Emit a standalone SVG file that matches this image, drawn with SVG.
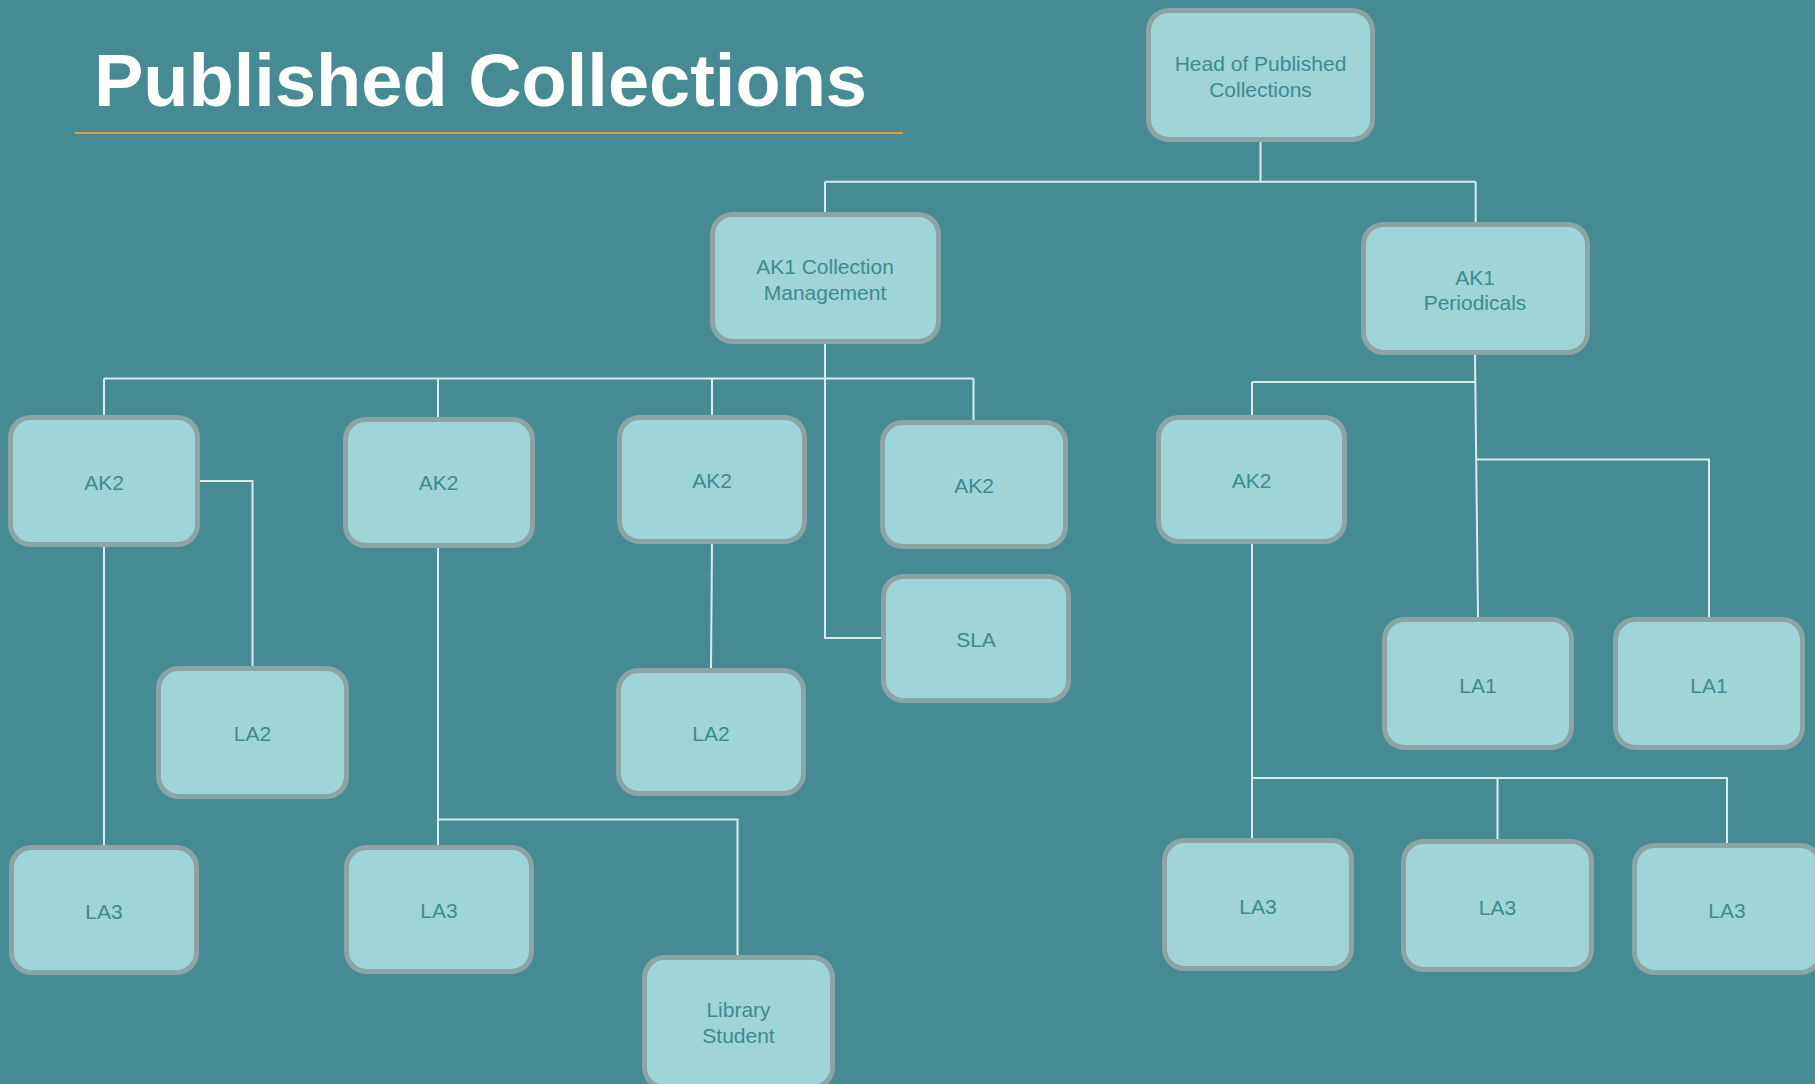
<svg xmlns="http://www.w3.org/2000/svg" width="1815" height="1084" viewBox="0 0 1815 1084">
<style>
.bg{fill:#468A94}
.box{fill:#9FD4D8;stroke:#8BA4A6;stroke-width:5}
.lbl{font-family:"Liberation Sans",Arial,sans-serif;font-size:21px;fill:#3D8B92;text-anchor:middle}
.con{fill:none;stroke:#D6EDEF;stroke-width:2}
.title{font-family:"Liberation Sans",Arial,sans-serif;font-weight:bold;font-size:74px;fill:#FFFFFF}
</style>
<rect class="bg" x="0" y="0" width="1815" height="1084"/>
<text class="title" x="94" y="106">Published Collections</text>
<line x1="75" y1="133" x2="903" y2="133" stroke="#EE9A2E" stroke-width="2"/>
<g id="connectors">
<path class="con" d="M1260.5 142V181.7M825 181.7H1475.7M825 181.7V212M1475.7 181.7V222"/>
<path class="con" d="M825 344V638H881"/>
<path class="con" d="M104 378.5H973.5M104 378.5V415M438 378.5V417M712 378.5V415M973.5 378.5V420"/>
<path class="con" d="M200 481H252.5V666M104 547V845"/>
<path class="con" d="M438 548V845M438 819.5H737.5V955"/>
<path class="con" d="M712 544L711 668"/>
<path class="con" d="M1475 355L1478 617M1252 382H1475M1252 382V415M1477 459.5H1709V617"/>
<path class="con" d="M1252 544V838M1252 778H1727V843M1497.5 778V839"/>
</g>
<g id="head"><rect class="box" x="1148.5" y="10.5" width="224" height="129" rx="20"/><text class="lbl" x="1260.5" y="70.5">Head of Published</text><text class="lbl" x="1260.5" y="96.5">Collections</text></g>
<g id="ak1cm"><rect class="box" x="712.5" y="214.5" width="226" height="127" rx="20"/><text class="lbl" x="825" y="273.5">AK1 Collection</text><text class="lbl" x="825" y="299.5">Management</text></g>
<g id="ak1p"><rect class="box" x="1363.5" y="224.5" width="224" height="128" rx="20"/><text class="lbl" x="1475" y="284.5">AK1</text><text class="lbl" x="1475" y="309.5">Periodicals</text></g>
<g id="ak2a"><rect class="box" x="10.5" y="417.5" width="187" height="127" rx="20"/><text class="lbl" x="104" y="489.5">AK2</text></g>
<g id="ak2b"><rect class="box" x="345.5" y="419.5" width="187" height="126" rx="20"/><text class="lbl" x="438.5" y="490">AK2</text></g>
<g id="ak2c"><rect class="box" x="619.5" y="417.5" width="185" height="124" rx="20"/><text class="lbl" x="712" y="487.5">AK2</text></g>
<g id="ak2d"><rect class="box" x="882.5" y="422.5" width="183" height="124" rx="20"/><text class="lbl" x="974" y="492.5">AK2</text></g>
<g id="sla"><rect class="box" x="883.5" y="576.5" width="185" height="124" rx="20"/><text class="lbl" x="976" y="646.5">SLA</text></g>
<g id="ak2e"><rect class="box" x="1158.5" y="417.5" width="186" height="124" rx="20"/><text class="lbl" x="1251.5" y="487.5">AK2</text></g>
<g id="la2a"><rect class="box" x="158.5" y="668.5" width="188" height="128" rx="20"/><text class="lbl" x="252.5" y="740.5">LA2</text></g>
<g id="la2b"><rect class="box" x="618.5" y="670.5" width="185" height="123" rx="20"/><text class="lbl" x="711" y="740.5">LA2</text></g>
<g id="la1a"><rect class="box" x="1384.5" y="619.5" width="187" height="128" rx="20"/><text class="lbl" x="1478" y="692.5">LA1</text></g>
<g id="la1b"><rect class="box" x="1615.5" y="619.5" width="187" height="128" rx="20"/><text class="lbl" x="1709" y="692.5">LA1</text></g>
<g id="la3a"><rect class="box" x="11.5" y="847.5" width="185" height="125" rx="20"/><text class="lbl" x="104" y="918.5">LA3</text></g>
<g id="la3b"><rect class="box" x="346.5" y="847.5" width="185" height="124" rx="20"/><text class="lbl" x="439" y="917.5">LA3</text></g>
<g id="lib"><rect class="box" x="644.5" y="957.5" width="188" height="130" rx="20"/><text class="lbl" x="738.5" y="1016.5">Library</text><text class="lbl" x="738.5" y="1042.5">Student</text></g>
<g id="la3c"><rect class="box" x="1164.5" y="840.5" width="187" height="128" rx="20"/><text class="lbl" x="1258" y="913.5">LA3</text></g>
<g id="la3d"><rect class="box" x="1403.5" y="841.5" width="188" height="128" rx="20"/><text class="lbl" x="1497.5" y="914.5">LA3</text></g>
<g id="la3e"><rect class="box" x="1634.5" y="845.5" width="186" height="127" rx="20"/><text class="lbl" x="1727" y="917.5">LA3</text></g>
</svg>
